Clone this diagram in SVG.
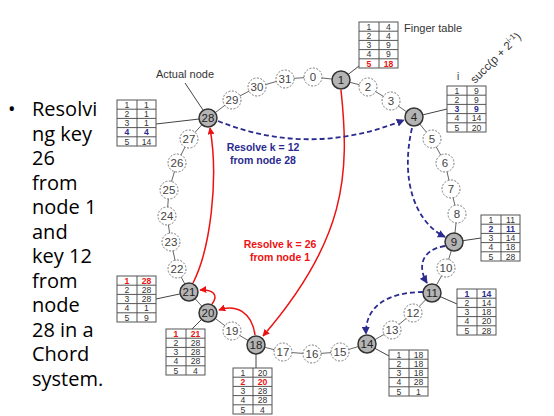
<svg xmlns="http://www.w3.org/2000/svg" width="554" height="416" viewBox="0 0 554 416">
<style>
.ring{stroke:#666;stroke-width:1;fill:none}
.lnk{stroke:#444;stroke-width:1;fill:none}
.dn circle{fill:#fff;stroke:#777;stroke-width:1;stroke-dasharray:2 1.5}
.an circle{fill:#b4b4b4;stroke:#333;stroke-width:1.5}
.dn text,.an text{font-family:"Liberation Sans",Arial,sans-serif;font-size:11.5px;text-anchor:middle;fill:#444}
.an text{fill:#222}
.tb text{font-family:"Liberation Sans",Arial,sans-serif;font-size:8.6px;text-anchor:middle;fill:#333}
.tb text.r{fill:#ee1111;font-weight:bold}
.tb text.b{fill:#2b2b8f;font-weight:bold}
.red{stroke:#ee1111;stroke-width:1.5;fill:none}
.blue{stroke:#2b2b8f;stroke-width:1.8;fill:none;stroke-dasharray:5 3}
.lbl{font-family:"Liberation Sans",Arial,sans-serif;font-size:10.5px;font-weight:bold;text-anchor:middle}
.note{font-family:"Liberation Sans",Arial,sans-serif;font-size:11px;fill:#333}
.bul{font-family:"Open Sans","Noto Sans",sans-serif;font-size:20px;fill:#000}
</style>
<defs>
<marker id="ar" viewBox="0 0 10 10" refX="9" refY="5" markerWidth="7" markerHeight="7" orient="auto" markerUnits="userSpaceOnUse"><path d="M0,0 L10,5 L0,10 z" fill="#ee1111"/></marker>
<marker id="ab" viewBox="0 0 10 10" refX="9" refY="5" markerWidth="8" markerHeight="8" orient="auto" markerUnits="userSpaceOnUse"><path d="M0,0 L10,5 L0,10 z" fill="#2b2b8f"/></marker>
<g id="tbl" fill="none" stroke="#555" stroke-width="1">
<rect x="0" y="0" width="39" height="46" fill="#fff"/>
<path d="M0,9.2H39M0,18.4H39M0,27.6H39M0,36.8H39M20,0V46"/>
</g>
</defs>
<rect width="554" height="416" fill="#fff"/>

<!-- ring -->
<polyline class="ring" points="313,77 341,80 368,87 391,101 414,117 432,139 445,163 451,189 457,214 454,242 446,268 432,293 413,313 392,330 367,344 340,352 312,354 283,352 256,345 232,331 208,313 189,292 177,269 171,242 167,216 169,190 177,163 189,139 208,118 232,100 257,87 285,79 313,77"/>

<!-- links to tables -->
<g id="links">
<line class="lnk" x1="341" y1="80" x2="359" y2="66"/>
<line class="lnk" x1="414" y1="117" x2="447" y2="109"/>
<line class="lnk" x1="208" y1="118" x2="156" y2="124"/>
<line class="lnk" x1="185" y1="83" x2="203" y2="110"/>
<line class="lnk" x1="454" y1="242" x2="481" y2="238"/>
<line class="lnk" x1="432" y1="293" x2="457" y2="304"/>
<line class="lnk" x1="367" y1="344" x2="389" y2="356"/>
<line class="lnk" x1="256" y1="345" x2="256" y2="368"/>
<line class="lnk" x1="189" y1="292" x2="156" y2="299"/>
<line class="lnk" x1="208" y1="313" x2="192" y2="329"/>
</g>

<!-- ring nodes -->
<g id="n0" class="dn"><circle cx="313" cy="77" r="9"/><text x="313" y="81">0</text></g>
<g id="n1" class="an"><circle cx="341" cy="80" r="9"/><text x="341" y="84">1</text></g>
<g id="n2" class="dn"><circle cx="368" cy="87" r="9"/><text x="368" y="91">2</text></g>
<g id="n3" class="dn"><circle cx="391" cy="101" r="9"/><text x="391" y="105">3</text></g>
<g id="n4" class="an"><circle cx="414" cy="117" r="9"/><text x="414" y="121">4</text></g>
<g id="n5" class="dn"><circle cx="432" cy="139" r="9"/><text x="432" y="143">5</text></g>
<g id="n6" class="dn"><circle cx="445" cy="163" r="9"/><text x="445" y="167">6</text></g>
<g id="n7" class="dn"><circle cx="451" cy="189" r="9"/><text x="451" y="193">7</text></g>
<g id="n8" class="dn"><circle cx="457" cy="214" r="9"/><text x="457" y="218">8</text></g>
<g id="n9" class="an"><circle cx="454" cy="242" r="9"/><text x="454" y="246">9</text></g>
<g id="n10" class="dn"><circle cx="446" cy="268" r="9"/><text x="446" y="272">10</text></g>
<g id="n11" class="an"><circle cx="432" cy="293" r="9"/><text x="432" y="297">11</text></g>
<g id="n12" class="dn"><circle cx="413" cy="313" r="9"/><text x="413" y="317">12</text></g>
<g id="n13" class="dn"><circle cx="392" cy="330" r="9"/><text x="392" y="334">13</text></g>
<g id="n14" class="an"><circle cx="367" cy="344" r="9"/><text x="367" y="348">14</text></g>
<g id="n15" class="dn"><circle cx="340" cy="352" r="9"/><text x="340" y="356">15</text></g>
<g id="n16" class="dn"><circle cx="312" cy="354" r="9"/><text x="312" y="358">16</text></g>
<g id="n17" class="dn"><circle cx="283" cy="352" r="9"/><text x="283" y="356">17</text></g>
<g id="n18" class="an"><circle cx="256" cy="345" r="9"/><text x="256" y="349">18</text></g>
<g id="n19" class="dn"><circle cx="232" cy="331" r="9"/><text x="232" y="335">19</text></g>
<g id="n20" class="an"><circle cx="208" cy="313" r="9"/><text x="208" y="317">20</text></g>
<g id="n21" class="an"><circle cx="189" cy="292" r="9"/><text x="189" y="296">21</text></g>
<g id="n22" class="dn"><circle cx="177" cy="269" r="9"/><text x="177" y="273">22</text></g>
<g id="n23" class="dn"><circle cx="171" cy="242" r="9"/><text x="171" y="246">23</text></g>
<g id="n24" class="dn"><circle cx="167" cy="216" r="9"/><text x="167" y="220">24</text></g>
<g id="n25" class="dn"><circle cx="169" cy="190" r="9"/><text x="169" y="194">25</text></g>
<g id="n26" class="dn"><circle cx="177" cy="163" r="9"/><text x="177" y="167">26</text></g>
<g id="n27" class="dn"><circle cx="189" cy="139" r="9"/><text x="189" y="143">27</text></g>
<g id="n28" class="an"><circle cx="208" cy="118" r="9"/><text x="208" y="122">28</text></g>
<g id="n29" class="dn"><circle cx="232" cy="100" r="9"/><text x="232" y="104">29</text></g>
<g id="n30" class="dn"><circle cx="257" cy="87" r="9"/><text x="257" y="91">30</text></g>
<g id="n31" class="dn"><circle cx="285" cy="79" r="9"/><text x="285" y="83">31</text></g>

<!-- finger tables -->
<g id="t1" class="tb" transform="translate(359,22)"><use href="#tbl"/>
<text x="10" y="7.8">1</text><text x="29.5" y="7.8">4</text>
<text x="10" y="17">2</text><text x="29.5" y="17">4</text>
<text x="10" y="26.2">3</text><text x="29.5" y="26.2">9</text>
<text x="10" y="35.4">4</text><text x="29.5" y="35.4">9</text>
<text class="r" x="10" y="44.6">5</text><text class="r" x="29.5" y="44.6">18</text></g>
<text class="note" x="404" y="32">Finger table</text>

<g id="t4" class="tb" transform="translate(447,86)"><use href="#tbl"/>
<text x="10" y="7.8">1</text><text x="29.5" y="7.8">9</text>
<text x="10" y="17">2</text><text x="29.5" y="17">9</text>
<text class="b" x="10" y="26.2">3</text><text class="b" x="29.5" y="26.2">9</text>
<text x="10" y="35.4">4</text><text x="29.5" y="35.4">14</text>
<text x="10" y="44.6">5</text><text x="29.5" y="44.6">20</text></g>
<text class="note" x="457" y="80" style="font-size:10px">i</text>
<text class="note" style="font-size:11.5px" transform="translate(475,84) rotate(-45)">succ(p + 2<tspan dy="-4.5" font-size="8px">i-1</tspan><tspan dy="4.5">)</tspan></text>

<g id="t28" class="tb" transform="translate(117,100)"><use href="#tbl"/>
<text x="10" y="7.8">1</text><text x="29.5" y="7.8">1</text>
<text x="10" y="17">2</text><text x="29.5" y="17">1</text>
<text x="10" y="26.2">3</text><text x="29.5" y="26.2">1</text>
<text class="b" x="10" y="35.4">4</text><text class="b" x="29.5" y="35.4">4</text>
<text x="10" y="44.6">5</text><text x="29.5" y="44.6">14</text></g>
<text class="note" x="185" y="78" text-anchor="middle">Actual node</text>

<g id="t9" class="tb" transform="translate(481,215)"><use href="#tbl"/>
<text x="10" y="7.8">1</text><text x="29.5" y="7.8">11</text>
<text class="b" x="10" y="17">2</text><text class="b" x="29.5" y="17">11</text>
<text x="10" y="26.2">3</text><text x="29.5" y="26.2">14</text>
<text x="10" y="35.4">4</text><text x="29.5" y="35.4">18</text>
<text x="10" y="44.6">5</text><text x="29.5" y="44.6">28</text></g>

<g id="t11" class="tb" transform="translate(457,289)"><use href="#tbl"/>
<text class="b" x="10" y="7.8">1</text><text class="b" x="29.5" y="7.8">14</text>
<text x="10" y="17">2</text><text x="29.5" y="17">14</text>
<text x="10" y="26.2">3</text><text x="29.5" y="26.2">18</text>
<text x="10" y="35.4">4</text><text x="29.5" y="35.4">20</text>
<text x="10" y="44.6">5</text><text x="29.5" y="44.6">28</text></g>

<g id="t14" class="tb" transform="translate(389,350)"><use href="#tbl"/>
<text x="10" y="7.8">1</text><text x="29.5" y="7.8">18</text>
<text x="10" y="17">2</text><text x="29.5" y="17">18</text>
<text x="10" y="26.2">3</text><text x="29.5" y="26.2">18</text>
<text x="10" y="35.4">4</text><text x="29.5" y="35.4">28</text>
<text x="10" y="44.6">5</text><text x="29.5" y="44.6">1</text></g>

<g id="t18" class="tb" transform="translate(233,368)"><use href="#tbl"/>
<text x="10" y="7.8">1</text><text x="29.5" y="7.8">20</text>
<text class="r" x="10" y="17">2</text><text class="r" x="29.5" y="17">20</text>
<text x="10" y="26.2">3</text><text x="29.5" y="26.2">28</text>
<text x="10" y="35.4">4</text><text x="29.5" y="35.4">28</text>
<text x="10" y="44.6">5</text><text x="29.5" y="44.6">4</text></g>

<g id="t21" class="tb" transform="translate(117,276)"><use href="#tbl"/>
<text class="r" x="10" y="7.8">1</text><text class="r" x="29.5" y="7.8">28</text>
<text x="10" y="17">2</text><text x="29.5" y="17">28</text>
<text x="10" y="26.2">3</text><text x="29.5" y="26.2">28</text>
<text x="10" y="35.4">4</text><text x="29.5" y="35.4">1</text>
<text x="10" y="44.6">5</text><text x="29.5" y="44.6">9</text></g>

<g id="t20" class="tb" transform="translate(166,329)"><use href="#tbl"/>
<text class="r" x="10" y="7.8">1</text><text class="r" x="29.5" y="7.8">21</text>
<text x="10" y="17">2</text><text x="29.5" y="17">28</text>
<text x="10" y="26.2">3</text><text x="29.5" y="26.2">28</text>
<text x="10" y="35.4">4</text><text x="29.5" y="35.4">28</text>
<text x="10" y="44.6">5</text><text x="29.5" y="44.6">4</text></g>

<!-- lookup connectors -->
<g id="connectors">
<path class="red" d="M341,90 C350,175 346,240 263,336" marker-end="url(#ar)"/>
<path class="red" d="M255,335 C252,312 236,304 219,310" marker-end="url(#ar)"/>
<path class="red" d="M212,304 C219,295 213,289 200,290" marker-end="url(#ar)"/>
<path class="red" d="M193,283 C210,250 219,180 210,128" marker-end="url(#ar)"/>
<path class="blue" d="M218,121 Q310,158 404,120" marker-end="url(#ab)"/>
<path class="blue" d="M412,128 C400,180 415,222 445,237" marker-end="url(#ab)"/>
<path class="blue" d="M445,246 C420,250 418,268 427,283" marker-end="url(#ab)"/>
<path class="blue" d="M423,292 C390,292 365,305 366,334" marker-end="url(#ab)"/>
</g>
<text class="lbl" x="280" y="248" fill="#ee1111">Resolve k = 26</text>
<text class="lbl" x="280" y="261" fill="#ee1111">from node 1</text>
<text class="lbl" x="263" y="151" fill="#2b2b8f">Resolve k = 12</text>
<text class="lbl" x="263" y="164" fill="#2b2b8f">from node 28</text>

<!-- bullet text -->
<g class="bul">
<text x="8" y="116">•</text>
<text x="32" y="116">Resolvi</text>
<text x="32" y="140.5">ng key</text>
<text x="32" y="165">26</text>
<text x="32" y="189.5">from</text>
<text x="32" y="214">node 1</text>
<text x="32" y="238.5">and</text>
<text x="32" y="263">key 12</text>
<text x="32" y="287.5">from</text>
<text x="32" y="312">node</text>
<text x="32" y="336.5">28 in a</text>
<text x="32" y="361">Chord</text>
<text x="32" y="385.5">system.</text>
</g>
</svg>
